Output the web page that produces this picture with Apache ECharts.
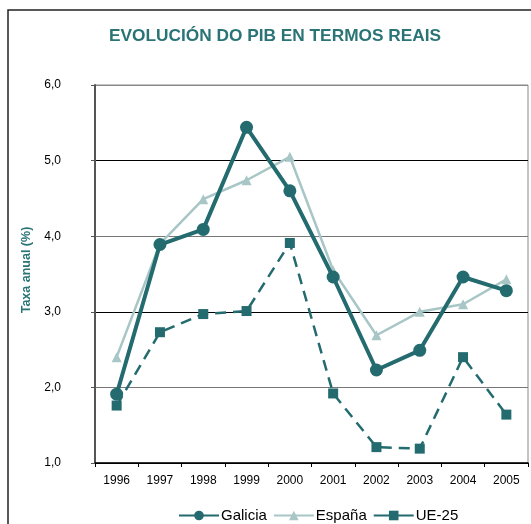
<!DOCTYPE html>
<html>
<head>
<meta charset="utf-8">
<script src="https://cdn.jsdelivr.net/npm/echarts@6/dist/echarts.min.js"></script>
<style>html,body{margin:0;padding:0;background:#fff;}#c{width:531px;height:524px;}</style>
</head>
<body>
<div id="c"></div>
<script>
const years = ['1996','1997','1998','1999','2000','2001','2002','2003','2004','2005'];
const galicia = [1.91, 3.89, 4.09, 5.44, 4.60, 3.46, 2.23, 2.49, 3.46, 3.28];
const espana = [2.40, 3.90, 4.49, 4.74, 5.05, 3.55, 2.69, 3.00, 3.10, 3.43];
const ue25 = [1.76, 2.73, 2.97, 3.01, 3.91, 1.92, 1.21, 1.19, 2.40, 1.64];

const dark = '#236b6e';
const light = '#a8c6c6';
const chart = echarts.init(document.getElementById('c'));
chart.setOption({
  animation: false,
  title: {
    text: 'EVOLUCIÓN DO PIB EN TERMOS REAIS',
    left: 270, top: 23, textAlign: 'center',
    textStyle: {fontFamily: 'Liberation Sans, Arial', fontSize: 17.3, fontWeight: 'bold', color: '#2a7476'}
  },
  graphic: [{
    type: 'rect', shape: {x: 8, y: 10, width: 600, height: 600},
    style: {fill: 'none', stroke: '#222', lineWidth: 1.5}, z: -1
  }],
  legend: {
    top: 503, left: 173, itemWidth: 40, itemHeight: 12, itemGap: 6,
    textStyle: {fontFamily: 'Liberation Sans, Arial', fontSize: 15, color: '#000', padding: [0, 0, 0, -3]},
    data: ['Galicia', 'España', {name: 'UE-25', lineStyle: {type: 'solid'}}]
  },
  grid: {left: 95, right: 3, top: 85, bottom: 61, show: true, borderColor: '#888', borderWidth: 1},
  xAxis: {
    type: 'category', data: years, boundaryGap: true,
    axisLine: {lineStyle: {color: '#000', width: 1.5}},
    axisTick: {show: true, length: 4, lineStyle: {color: '#000'}},
    axisLabel: {margin: 12, fontFamily: 'Liberation Sans, Arial', fontSize: 12, color: '#000'}
  },
  yAxis: {
    type: 'value', min: 1, max: 6, interval: 1,
    name: 'Taxa anual (%)', nameLocation: 'middle', nameGap: 60, nameRotate: 90,
    nameTextStyle: {fontFamily: 'Liberation Sans, Arial', fontSize: 12.5, fontWeight: 'bold', color: '#2a7476', padding: [0, 0, 0, 8]},
    axisLine: {show: true, lineStyle: {color: '#555', width: 2}},
    axisTick: {show: true, length: 4, lineStyle: {color: '#555'}},
    axisLabel: {margin: 34, fontFamily: 'Liberation Sans, Arial', fontSize: 12, color: '#000',
      formatter: v => v.toFixed(1).replace('.', ',')},
    splitLine: {show: true, lineStyle: {color: ['#000', '#777', '#000', '#777', '#000', '#888'], width: 1}}
  },
  series: [
    {name: 'Galicia', type: 'line', data: galicia, symbol: 'circle', symbolSize: 13,
      lineStyle: {color: dark, width: 4}, itemStyle: {color: dark}, z: 4},
    {name: 'España', type: 'line', data: espana, symbol: 'triangle', symbolSize: 10,
      lineStyle: {color: light, width: 2.5}, itemStyle: {color: light}, z: 3},
    {name: 'UE-25', type: 'line', data: ue25, symbol: 'rect', symbolSize: 10,
      lineStyle: {color: dark, width: 2.5, type: [11, 7]}, itemStyle: {color: dark}, z: 2}
  ]
});
</script>
</body>
</html>
